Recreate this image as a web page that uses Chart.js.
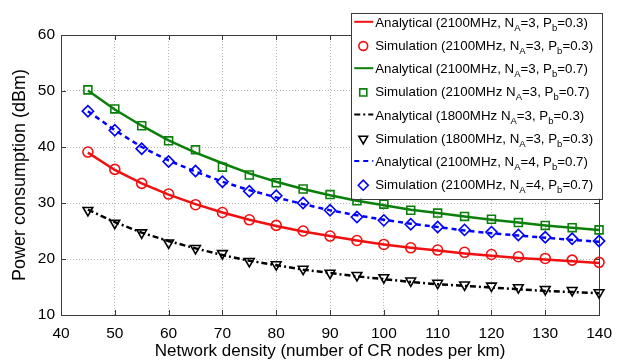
<!DOCTYPE html>
<html>
<head>
<meta charset="utf-8">
<title>Power consumption vs network density</title>
<script src="https://cdn.jsdelivr.net/npm/chart.js@4/dist/chart.umd.min.js"></script>
<style>
  html, body { margin: 0; padding: 0; background: #ffffff; }
  #wrap { width: 621px; height: 360px; }
</style>
</head>
<body>
<div id="wrap"><canvas id="c" width="621" height="360"></canvas></div>
<script>
// Network density (CR nodes per km)
const density = [45, 50, 55, 60, 65, 70, 75, 80, 85, 90, 95, 100, 105, 110, 115, 120, 125, 130, 135, 140];

// Power consumption (dBm)
const ana2100NA3Pb03 = [39.0, 35.9, 33.5, 31.5, 29.8, 28.3, 27.0, 25.9, 24.9, 24.1, 23.3, 22.6, 22.0, 21.5, 21.0, 20.6, 20.2, 19.9, 19.6, 19.3];
const sim2100NA3Pb03 = [39.1, 36.0, 33.5, 31.6, 29.7, 28.3, 27.0, 26.0, 25.0, 24.1, 23.3, 22.6, 22.0, 21.6, 21.2, 20.8, 20.4, 20.1, 19.8, 19.4];
const ana2100NA3Pb07 = [50.1, 46.7, 43.8, 41.2, 39.0, 37.1, 35.3, 33.8, 32.5, 31.4, 30.4, 29.6, 28.8, 28.2, 27.6, 27.0, 26.5, 26.0, 25.6, 25.2];
const sim2100NA3Pb07 = [50.2, 46.8, 43.8, 41.1, 39.5, 36.4, 35.0, 33.6, 32.5, 31.5, 30.4, 29.8, 28.7, 28.2, 27.6, 27.1, 26.5, 26.0, 25.6, 25.2];
const ana1800NA3Pb03 = [28.8, 26.6, 24.7, 23.2, 21.9, 20.7, 19.7, 18.9, 18.1, 17.5, 16.9, 16.4, 15.9, 15.5, 15.2, 14.9, 14.6, 14.3, 14.1, 13.9];
const sim1800NA3Pb03 = [28.7, 26.4, 24.7, 22.9, 21.9, 21.0, 19.6, 19.0, 18.2, 17.5, 17.1, 16.7, 16.1, 15.7, 15.4, 15.2, 14.9, 14.6, 14.4, 14.0];
const ana2100NA4Pb07 = [46.4, 43.0, 40.0, 37.6, 35.6, 33.8, 32.3, 31.0, 29.8, 28.7, 27.8, 27.0, 26.3, 25.7, 25.1, 24.6, 24.2, 23.8, 23.4, 23.1];
const sim2100NA4Pb07 = [46.4, 43.0, 39.7, 37.4, 35.7, 33.8, 32.1, 31.3, 30.0, 28.7, 27.5, 26.9, 26.2, 25.7, 25.2, 24.8, 24.3, 23.9, 23.6, 23.2];

// Legend labels; _{x} marks a subscript
const seriesLabels = [
  'Analytical (2100MHz, N_{A}=3, P_{b}=0.3)',
  'Simulation (2100MHz, N_{A}=3, P_{b}=0.3)',
  'Analytical (2100MHz, N_{A}=3, P_{b}=0.7)',
  'Simulation (2100MHz N_{A}=3, P_{b}=0.7)',
  'Analytical (1800MHz N_{A}=3, P_{b}=0.3)',
  'Simulation (1800MHz, N_{A}=3, P_{b}=0.3)',
  'Analytical (2100MHz, N_{A}=4, P_{b}=0.7)',
  'Simulation (2100MHz, N_{A}=4, P_{b}=0.7)'
];

const xTicks = [40, 50, 60, 70, 80, 90, 100, 110, 120, 130, 140];
const yTicks = [10, 20, 30, 40, 50, 60];

const FONT = '"Liberation Sans", Arial, Helvetica, sans-serif';
const RED = 'rgb(240,16,16)';
const GREEN = 'rgb(10,128,10)';
const BLACK = 'rgb(0,0,0)';
const BLUE = 'rgb(0,0,255)';

function pts(values) {
  return density.map((x, i) => ({ x: x, y: values[i] }));
}

function lineSeries(label, values, color, dash) {
  return {
    label: label, data: pts(values), kind: 'line',
    borderColor: color, backgroundColor: color, borderWidth: 2.5,
    borderDash: dash, pointRadius: 0, pointHoverRadius: 0,
    tension: 0, fill: false, clip: false
  };
}

function markerSeries(label, values, color, style, radius, rotation) {
  return {
    label: label, data: pts(values), kind: 'marker', showLine: false,
    borderColor: color, backgroundColor: 'rgba(0,0,0,0)',
    pointStyle: style, pointRadius: radius, pointHoverRadius: radius,
    pointBorderWidth: 1.6, pointRotation: rotation || 0, clip: false
  };
}

const datasets = [
  lineSeries(seriesLabels[0], ana2100NA3Pb03, RED, []),
  markerSeries(seriesLabels[1], sim2100NA3Pb03, RED, 'circle', 5),
  lineSeries(seriesLabels[2], ana2100NA3Pb07, GREEN, []),
  markerSeries(seriesLabels[3], sim2100NA3Pb07, GREEN, 'rect', 5.6),
  lineSeries(seriesLabels[4], ana1800NA3Pb03, BLACK, [6, 3, 2, 3]),
  markerSeries(seriesLabels[5], sim1800NA3Pb03, BLACK, 'triangle', 5.6, 180),
  lineSeries(seriesLabels[6], ana2100NA4Pb07, BLUE, [5, 4]),
  markerSeries(seriesLabels[7], sim2100NA4Pb07, BLUE, 'rectRot', 5.6)
];

// ---- rich text with subscripts ----
function parseRich(text) {
  const parts = [];
  const re = /_\{(.*?)\}/g;
  let last = 0, m;
  while ((m = re.exec(text)) !== null) {
    if (m.index > last) parts.push({ t: text.slice(last, m.index), sub: false });
    parts.push({ t: m[1], sub: true });
    last = re.lastIndex;
  }
  if (last < text.length) parts.push({ t: text.slice(last), sub: false });
  return parts;
}
function measureRich(ctx, text, base, sub) {
  let w = 0;
  for (const p of parseRich(text)) {
    ctx.font = p.sub ? sub : base;
    w += ctx.measureText(p.t).width;
  }
  return w;
}
function drawRich(ctx, text, x, baseline, base, sub, subDrop) {
  ctx.textBaseline = 'alphabetic';
  ctx.textAlign = 'left';
  for (const p of parseRich(text)) {
    ctx.font = p.sub ? sub : base;
    ctx.fillText(p.t, x, p.sub ? baseline + subDrop : baseline);
    x += ctx.measureText(p.t).width;
  }
}

// ---- full axes box with inward tick marks ----
const axesBox = {
  id: 'axesBox',
  beforeDatasetsDraw(chart) {
    const { ctx, chartArea: a, scales } = chart;
    ctx.save();
    ctx.strokeStyle = '#3a3a3a';
    ctx.lineWidth = 1;
    ctx.setLineDash([]);
    ctx.strokeRect(Math.round(a.left) + 0.5, Math.round(a.top) + 0.5,
                   Math.round(a.right - a.left), Math.round(a.bottom - a.top));
    const len = 5;
    ctx.beginPath();
    for (const t of scales.x.ticks) {
      const px = Math.round(scales.x.getPixelForValue(t.value)) + 0.5;
      ctx.moveTo(px, a.bottom); ctx.lineTo(px, a.bottom - len);
      ctx.moveTo(px, a.top); ctx.lineTo(px, a.top + len);
    }
    for (const t of scales.y.ticks) {
      const py = Math.round(scales.y.getPixelForValue(t.value)) + 0.5;
      ctx.moveTo(a.left, py); ctx.lineTo(a.left + len, py);
      ctx.moveTo(a.right, py); ctx.lineTo(a.right - len, py);
    }
    ctx.stroke();
    ctx.restore();
  }
};

// ---- boxed legend drawn from the datasets ----
function drawMarker(ctx, style, r, rot, x, y) {
  if (Chart.helpers && Chart.helpers.drawPoint) {
    Chart.helpers.drawPoint(ctx, { pointStyle: style, radius: r, rotation: rot, borderWidth: 1.6 }, x, y);
    return;
  }
  ctx.beginPath();
  ctx.arc(x, y, r, 0, Math.PI * 2);
  ctx.stroke();
}

const boxedLegend = {
  id: 'boxedLegend',
  afterDraw(chart) {
    const { ctx, chartArea: a } = chart;
    const list = chart.data.datasets;
    const base = '13.3px ' + FONT, sub = '9.5px ' + FONT;
    ctx.save();
    const maxW = Math.max(...list.map(ds => measureRich(ctx, ds.label, base, sub)));
    const rowH = 23.2, symW = 24;
    const right = a.right + 3, top = 13;
    const left = right - (symW + maxW + 9);
    const bottom = top + rowH * list.length;
    ctx.fillStyle = '#ffffff';
    ctx.fillRect(left, top, right - left, bottom - top);
    ctx.strokeStyle = '#3a3a3a';
    ctx.lineWidth = 1;
    ctx.strokeRect(Math.round(left) + 0.5, Math.round(top) + 0.5, Math.round(right - left), Math.round(bottom - top));
    list.forEach((ds, i) => {
      const cy = top + 8.8 + i * rowH;
      ctx.strokeStyle = ds.borderColor;
      if (ds.kind === 'line') {
        ctx.lineWidth = 2;
        ctx.setLineDash(ds.borderDash || []);
        ctx.beginPath();
        ctx.moveTo(left + 3, cy); ctx.lineTo(left + 22, cy);
        ctx.stroke();
        ctx.setLineDash([]);
      } else {
        ctx.lineWidth = 1.6;
        ctx.fillStyle = 'rgba(0,0,0,0)';
        drawMarker(ctx, ds.pointStyle, ds.pointRadius - 0.6, ds.pointRotation, left + 12, cy + 1);
      }
      ctx.fillStyle = '#000000';
      drawRich(ctx, ds.label, left + symW, cy + 5, base, sub, 4);
    });
    ctx.restore();
  }
};

new Chart(document.getElementById('c'), {
  type: 'line',
  data: { datasets: datasets },
  options: {
    responsive: false,
    devicePixelRatio: 1,
    animation: false,
    events: [],
    layout: { padding: { top: 35, right: 15, left: 0, bottom: 0 } },
    plugins: { legend: { display: false }, tooltip: { enabled: false } },
    scales: {
      x: {
        type: 'linear', min: xTicks[0], max: xTicks[xTicks.length - 1],
        afterBuildTicks: s => { s.ticks = xTicks.map(v => ({ value: v })); },
        afterFit: s => { s.height = 45; },
        grid: { color: '#b4b4b4', lineWidth: 1, drawTicks: false },
        border: { display: false, dash: [1, 2] },
        ticks: { color: '#000', padding: 9, maxRotation: 0, font: { family: FONT, size: 15.5 } },
        title: { display: true, text: 'Network density (number of CR nodes per km)', color: '#000',
                 padding: 0, font: { family: FONT, size: 17, lineHeight: 1 } }
      },
      y: {
        type: 'linear', min: yTicks[0], max: yTicks[yTicks.length - 1],
        afterBuildTicks: s => { s.ticks = yTicks.map(v => ({ value: v })); },
        afterFit: s => { s.width = 61; },
        grid: { color: '#b4b4b4', lineWidth: 1, drawTicks: false },
        border: { display: false, dash: [1, 2] },
        ticks: { color: '#000', padding: 6, font: { family: FONT, size: 15.5 } },
        title: { display: true, text: 'Power consumption (dBm)', color: '#000',
                 padding: { top: 11, bottom: 0 }, font: { family: FONT, size: 18, lineHeight: 1 } }
      }
    }
  },
  plugins: [axesBox, boxedLegend]
});
</script>
</body>
</html>
